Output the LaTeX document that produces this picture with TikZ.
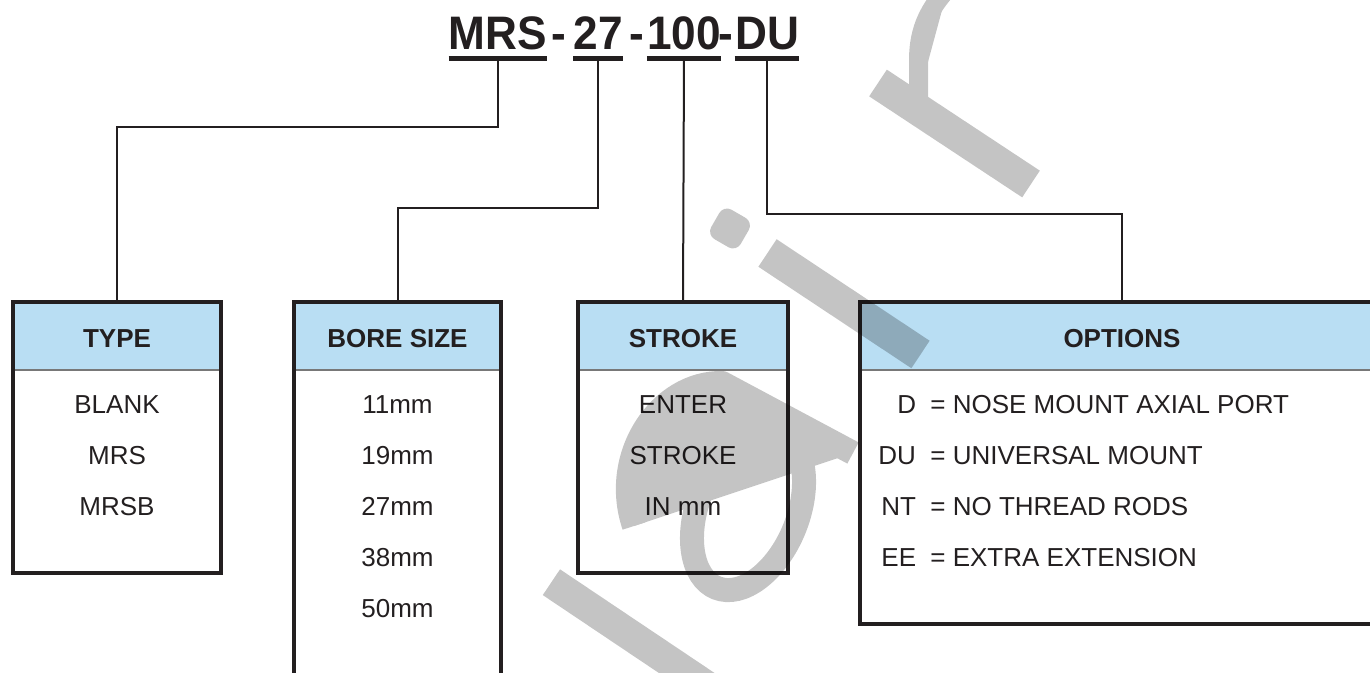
\documentclass[tikz,border=0pt]{standalone}
\usepackage{fontspec}
\setmainfont{Liberation Sans}
\newfontfamily\titlefont{Liberation Sans}[FakeStretch=0.94]
\definecolor{ink}{RGB}{35,31,32}
\definecolor{headblue}{RGB}{185,222,243}
\definecolor{rulegray}{RGB}{120,120,120}
\begin{document}
\begin{tikzpicture}[
    x=0.5pt, y=-0.5pt,
    seg/.style={font=\titlefont\fontsize{23.5}{27}\selectfont\bfseries, text=ink, inner sep=0pt, text depth=4pt, anchor=base},
    item/.style={font=\fontsize{13}{15}\selectfont, text=ink, inner sep=0pt, anchor=base},
    headtext/.style={font=\fontsize{13}{15}\selectfont\bfseries, text=ink, inner sep=0pt, anchor=base},
    catbox/.style={inner sep=0pt, outer sep=0pt, anchor=north},
    boxline/.style={draw=ink, line width=2pt},
    headrule/.style={draw=rulegray, line width=0.6pt},
    underline/.style={draw=ink, line width=2.2pt},
    link/.style={draw=ink, line width=1pt},
    wm/.style={draw=black, fill=black, line cap=butt}
  ]
    \useasboundingbox (0,0) rectangle (1370,673);
    \clip (0,0) rectangle (1370,673);

    \node[seg] (seg-mrs) at (498,50) {MRS};
    \node[seg] (dash-1) at (559,50) {-};
    \node[seg] (seg-27) at (598,50) {27};
    \node[seg] (dash-2) at (637,50) {-};
    \node[seg] (seg-100) at (684,50) {100};
    \node[seg] (dash-3) at (726,50) {-};
    \node[seg] (seg-du) at (767,50) {DU};
    \foreach \s in {mrs,27,100,du}
        \draw[underline] (seg-\s.south west) -- (seg-\s.south east);

    \foreach \cat/\cx/\bw/\bh/\htxt in {type/117/104/135.5/TYPE, bore/397.5/103.5/210/BORE SIZE,
            stroke/683/105/135.5/STROKE, options/1122/262/161/OPTIONS} {
        \node[catbox, minimum width=\bw pt, minimum height=\bh pt] (\cat-box) at (\cx,302) {};
        \fill[headblue] (\cat-box.north west) rectangle (\cat-box.east |- 0,370);
        \draw[headrule] (\cat-box.west |- 0,370) -- (\cat-box.east |- 0,370);
        \draw[boxline] (\cat-box.north west) rectangle (\cat-box.south east);
        \node[headtext] (\cat-head) at (\cx,348) {\htxt};
    }

    \foreach \txt [count=\i] in {BLANK,MRS,MRSB}
        \node[item] (type-\i) at (117,{414+50.8*(\i-1)}) {\txt};
    \foreach \txt [count=\i] in {11mm,19mm,27mm,38mm,50mm}
        \node[item] (bore-\i) at (397.5,{414+50.8*(\i-1)}) {\txt};
    \foreach \txt [count=\i] in {ENTER,STROKE,IN mm}
        \node[item] (stroke-\i) at (683,{414+50.8*(\i-1)}) {\txt};
    \foreach \code/\cx/\desc [count=\i] in {D/897/NOSE MOUNT AXIAL PORT, DU/878/UNIVERSAL MOUNT,
            NT/881/NO THREAD RODS, EE/881/EXTRA EXTENSION} {
        \node[item, anchor=base west] (opt-code-\i) at (\cx,{414+50.8*(\i-1)}) {\code};
        \node[item, anchor=base west] (opt-desc-\i) at (930,{414+50.8*(\i-1)}) {= \desc};
    }

    \draw[link] (seg-mrs.south) -- (seg-mrs.south |- 0,127) -| (type-box.north);
    \draw[link] (seg-27.south) -- (seg-27.south |- 0,208) -| (bore-box.north);
    \draw[link] (seg-100.south) -- (stroke-box.north);
    \draw[link] (seg-du.south) -- (seg-du.south |- 0,214) -| (options-box.north);

    \begin{scope}[transparency group, opacity=0.23]
        \draw[wm, line width=15.5pt] (551.4,582.2) -- (727,700);
        \draw[wm, line width=12pt, line join=round]
            (634,526) .. controls (610,455) and (660,382) .. (722,383) -- (853,453);
        \draw[wm, line width=12pt, fill=none, shift={(748,510)}, rotate=68]
            (0,0) ellipse [x radius=84, y radius=50];
        \fill[wm, shift={(730,228.5)}, rotate=-30, rounded corners=4pt] (-16,-16) rectangle (16,16);
        \draw[wm, line width=16.5pt] (767.5,253) -- (920.5,354.5);
        \draw[wm, line width=16pt] (878,83) -- (1031,184);
        \draw[wm, line width=9.5pt] (918.5,97) -- (918.5,60) .. controls (918.5,28) and (930,8) .. (948,-12);
    \end{scope}
\end{tikzpicture}
\end{document}
